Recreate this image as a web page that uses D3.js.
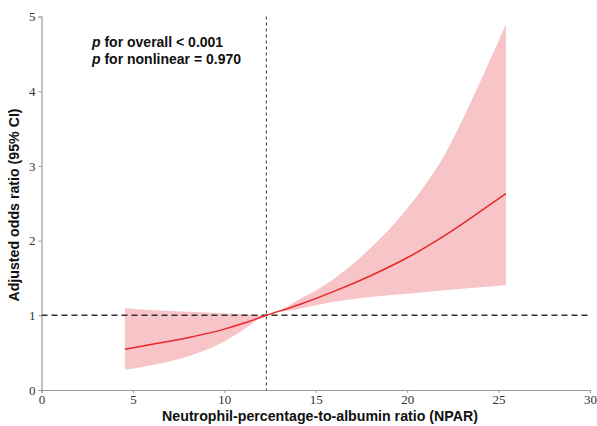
<!DOCTYPE html>
<html>
<head>
<meta charset="utf-8">
<script src="https://cdn.jsdelivr.net/npm/d3@7"></script>
<style>
body { margin:0; background:#fff; }
.tick text { font-family:"Liberation Serif", "Times New Roman", serif; font-size:13px; fill:#333; }
.axis path, .axis line { stroke:#9a9a9a; }
.label { font-family:"Liberation Sans", Arial, sans-serif; font-weight:bold; font-size:14.2px; fill:#111; }
.note { font-family:"Liberation Sans", Arial, sans-serif; font-weight:bold; font-size:14px; fill:#111; }
</style>
</head>
<body>
<svg></svg>
<script>
// values
var npar  = [4.56, 6, 8, 10, 11, 12.3, 14, 16, 18, 20, 22, 24, 25.4];
var oddsR = [0.545, 0.61, 0.70, 0.815, 0.89, 1.00, 1.135, 1.32, 1.53, 1.77, 2.06, 2.39, 2.63];
var lower = [0.27, 0.33, 0.45, 0.65, 0.80, 1.00, 1.08, 1.18, 1.245, 1.29, 1.335, 1.375, 1.405];
var upper = [1.094, 1.07, 1.048, 1.026, 1.014, 1.00, 1.20, 1.49, 1.90, 2.43, 3.13, 4.13, 4.90];
var xTicks = [0, 5, 10, 15, 20, 25, 30];
var yTicks = [0, 1, 2, 3, 4, 5];
var refX = 12.3;
var refY = 1;

var screen = {width:597, height:426};
var margins = {top:16.5, bottom:36, left:41.5, right:7};
var graph = {
    width:screen.width-margins.left-margins.right,
    height:screen.height-margins.top-margins.bottom
};

var svg = d3.select("svg")
    .attr("width",screen.width)
    .attr("height",screen.height);

var xScale = d3.scaleLinear().domain([0,30]).range([0,graph.width]);
var yScale = d3.scaleLinear().domain([0,5]).range([graph.height,0]);

var g = svg.append("g")
    .attr("transform","translate("+margins.left+","+margins.top+")");

var rows = npar.map(function(x,i){
    return {x:x, or:oddsR[i], lo:lower[i], hi:upper[i]};
});

//confidence band
var area = d3.area()
    .x(function(d){return xScale(d.x);})
    .y0(function(d){return yScale(d.lo);})
    .y1(function(d){return yScale(d.hi);})
    .curve(d3.curveMonotoneX);

g.append("path")
    .datum(rows)
    .attr("d",area)
    .attr("fill","#f7c5c7");

//axes
var xAxis = d3.axisBottom(xScale).tickValues(xTicks).tickFormat(d3.format("d")).tickSize(3).tickPadding(2);
var yAxis = d3.axisLeft(yScale).tickValues(yTicks).tickFormat(d3.format("d")).tickSize(3).tickPadding(3);

g.append("g")
    .classed("axis",true)
    .attr("transform","translate(0,"+graph.height+")")
    .call(xAxis);
g.append("g")
    .classed("axis",true)
    .call(yAxis);
g.selectAll(".domain").attr("stroke-width",1.2);

//reference lines
g.append("line")
    .attr("x1",0).attr("x2",graph.width)
    .attr("y1",yScale(refY)).attr("y2",yScale(refY))
    .attr("stroke","#333")
    .attr("stroke-width",1.6)
    .attr("stroke-dasharray","6,4");

g.append("line")
    .attr("x1",xScale(refX)).attr("x2",xScale(refX))
    .attr("y1",0).attr("y2",graph.height)
    .attr("stroke","#444")
    .attr("stroke-width",1.1)
    .attr("stroke-dasharray","3,3");

//fitted line
var line = d3.line()
    .x(function(d){return xScale(d.x);})
    .y(function(d){return yScale(d.or);})
    .curve(d3.curveMonotoneX);

g.append("path")
    .datum(rows)
    .attr("d",line)
    .attr("fill","none")
    .attr("stroke","#e8262b")
    .attr("stroke-width",1.5);

//labels
svg.append("text")
    .classed("label",true)
    .attr("text-anchor","middle")
    .attr("x",320)
    .attr("y",421)
    .text("Neutrophil-percentage-to-albumin ratio (NPAR)");

svg.append("g")
    .attr("transform","translate(19,205)")
    .append("text")
    .classed("label",true)
    .attr("text-anchor","middle")
    .attr("transform","rotate(-90)")
    .text("Adjusted odds ratio (95% CI)");

var notes = [["p"," for overall < 0.001"],["p"," for nonlinear = 0.970"]];
svg.selectAll(".note")
    .data(notes)
    .enter()
    .append("text")
    .classed("note",true)
    .attr("x",92)
    .attr("y",function(d,i){return 47+i*17;})
    .each(function(d){
        d3.select(this).append("tspan").attr("font-style","italic").text(d[0]);
        d3.select(this).append("tspan").text(d[1]);
    });
</script>
</body>
</html>
